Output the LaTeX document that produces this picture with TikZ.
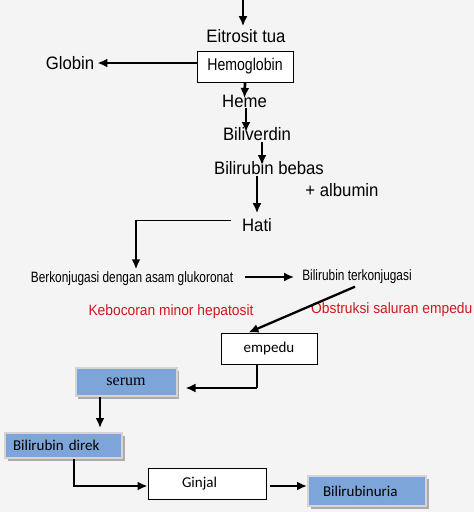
\documentclass[tikz,border=0pt]{standalone}
\usepackage{fontspec}
\usepackage{tikz}
\usetikzlibrary{arrows.meta,shadows}
\newfontfamily\sanswide[FakeStretch=0.93]{Liberation Sans}
\newfontfamily\sansnarrow[FakeStretch=0.83]{Liberation Sans}
\newfontfamily\sanscond[FakeStretch=0.79]{Liberation Sans}
\newfontfamily\sansred[FakeStretch=0.92]{Liberation Sans}
\newfontfamily\calibri{Carlito}
\newfontfamily\timesr{Liberation Serif}
\definecolor{bg}{RGB}{244,244,244}
\definecolor{boxblue}{RGB}{125,165,218}
\definecolor{rimgray}{RGB}{212,212,212}
\definecolor{redtxt}{RGB}{205,25,30}

\begin{document}
\begin{tikzpicture}[x=1pt, y=-1pt,
    big/.style = {inner sep=1pt, font=\sanswide\fontsize{18}{20}\selectfont},
    small/.style = {inner sep=1pt, font=\sanscond\fontsize{15}{17}\selectfont},
    warn/.style = {inner sep=1pt, text=redtxt, font=\sansred\fontsize{15}{17}\selectfont},
    wbox/.style = {draw, line width=1pt, fill=white, minimum height=31pt},
    bbox/.style = {draw=rimgray, line width=2pt, fill=boxblue, drop shadow={shadow xshift=2.5pt, shadow yshift=-2.5pt, fill=gray!65, opacity=1}, font=\calibri\fontsize{15}{17}\selectfont},
    arr/.style = {-{Latex[length=10pt,width=9pt]}, line width=2.7pt}]
    \useasboundingbox (0,0) rectangle (474,512);
    \fill[bg] (0,0) rectangle (474,512);
    % chain from the old red cells
    \node[big] (eri) at (246,36) {Eitrosit tua};
    \node[wbox, minimum width=96pt, font=\sansnarrow\fontsize{17}{19}\selectfont] (hemo) at (245,66.5) {Hemoglobin};
    \node[big] (glob) at (70,63) {Globin};
    \node[big] (heme) at (244.5,101) {Heme};
    \node[big] (bilv) at (257,134) {Biliverdin};
    \node[big] (bebas) at (269,168) {Bilirubin bebas};
    \node[big] (alb) at (342,190) {+ albumin};
    \node[big] (hati) at (257,225) {Hati};
    \node[small] (konj) at (132,278.5) {Berkonjugasi dengan asam glukoronat};
    \node[small] (terk) at (357,276.5) {Bilirubin terkonjugasi};
    \node[warn] (bocor) at (171,311.5) {Kebocoran minor hepatosit};
    \node[warn, anchor=east] (obst) at (473.5,309.5) {Obstruksi saluran empedu};
    % boxes
    \node[wbox, minimum width=96pt, font=\calibri\fontsize{15}{17}\selectfont] (empedu) at (269,348.5) {empedu};
    \node[bbox, minimum width=101pt, minimum height=28pt, font=\timesr\fontsize{16}{18}\selectfont] (serum) at (126,382) {serum};
    \node[bbox, minimum height=25pt, inner xsep=8pt, text width=101pt, align=left] (direk) at (63.5,445.5) {Bilirubin direk};
    \node[wbox, minimum width=118pt, inner xsep=34pt, text width=50pt, align=left, font=\calibri\fontsize{15}{17}\selectfont] (ginjal) at (207,483.5) {Ginjal};
    \node[bbox, minimum height=30pt, inner xsep=15pt, text width=88pt, align=left] (uria) at (367,491) {Bilirubinuria};
    % connectors
    \coordinate (top) at (243,0);
    \draw[arr, shorten >=2pt] (top) -- (top |- eri.north);
    \draw[arr] (hemo.west |- glob.east) -- ([xshift=2pt]glob.east);
    \draw[arr] (hemo.south) -- ([yshift=3pt]heme.center);
    \draw[arr] ([xshift=1.5pt]heme.south) -- ([xshift=-11pt,yshift=2pt]bilv.center);
    \draw[arr] ([xshift=5pt]bilv.south) -- ([xshift=-7pt,yshift=3pt]bebas.center);
    \draw[arr] ([xshift=-12pt]bebas.south) -- ([yshift=4pt]hati.north);
    \coordinate (h1) at ([xshift=-10pt,yshift=5pt]hati.west);
    \coordinate (k1) at ([xshift=4pt]konj.north);
    \draw[line width=1pt] (h1) -- (h1 -| k1);
    \draw[arr, shorten >=1pt] (h1 -| k1) -- (k1);
    \coordinate (a1) at ([xshift=11pt,yshift=1.5pt]konj.east);
    \coordinate (a2) at ([xshift=-7pt]terk.west);
    \draw[arr] (a1) -- (a1 -| a2);
    \draw[arr, line width=2.3pt] ([xshift=-2pt,yshift=-2pt]terk.south) -- ([xshift=28pt]empedu.north west);
    \coordinate (e1) at ([xshift=-12pt]empedu.south);
    \coordinate (s1) at ([xshift=8pt,yshift=-6pt]serum.east);
    \draw[line width=1.3pt] (e1) -- (e1 |- s1);
    \draw[arr] (e1 |- s1) -- (s1);
    \coordinate (s2) at ([xshift=-26pt]serum.south);
    \draw[arr, shorten >=4pt] (s2) -- (s2 |- direk.north);
    \coordinate (d1) at ([xshift=10.5pt]direk.south);
    \coordinate (g1) at ([yshift=-2.5pt]ginjal.west);
    \draw[arr, line width=1.8pt] (d1) |- (g1);
    \draw[arr] ([xshift=3pt,yshift=-2.5pt]ginjal.east) -- ([yshift=5pt]uria.west);
\end{tikzpicture}
\end{document}
